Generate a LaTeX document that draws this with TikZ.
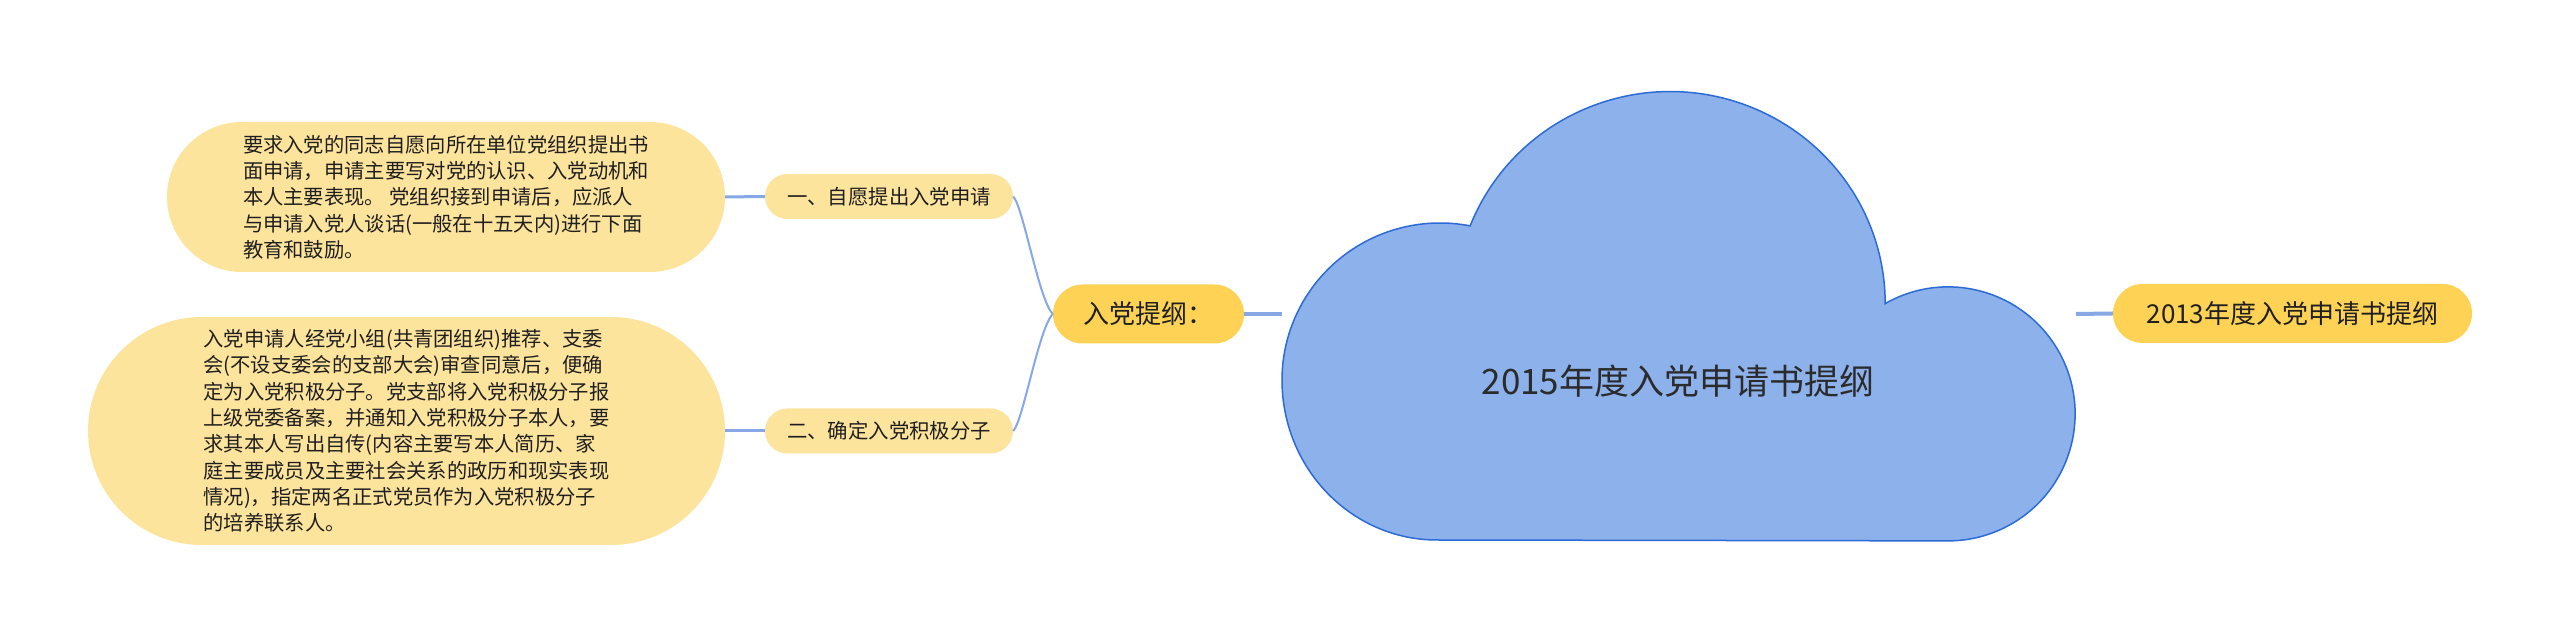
\documentclass[tikz,border=0pt]{standalone}
\usepackage{fontspec}
\setmainfont{Noto Sans CJK SC}
\definecolor{bubbleY}{HTML}{FDE49D}
\definecolor{mainY}{HTML}{FDD255}
\definecolor{lineB}{HTML}{86A8E6}
\definecolor{cloudF}{HTML}{8DB1EB}
\definecolor{cloudD}{HTML}{2C6BD6}
\definecolor{txt}{HTML}{1F1F1F}
\definecolor{rootTxt}{HTML}{2B2B2B}
\begin{document}
\begin{tikzpicture}[x=1pt,y=1pt,
  bubble/.style={fill=bubbleY, inner sep=0pt, text=txt, align=left,
    font=\fontsize{20.3}{26.3}\selectfont},
  sub/.style={fill=bubbleY, inner sep=0pt, minimum width=248pt, minimum height=45pt,
    rounded corners=22.5pt, text=txt, font=\fontsize{20.4}{24}\selectfont},
  mainnode/.style={fill=mainY, inner sep=0pt, minimum height=59pt,
    rounded corners=29.5pt, text=txt, font=\fontsize{26}{30}\selectfont},
  link/.style={draw=lineB, line width=3pt},
  thicklink/.style={draw=lineB, line width=4pt},
  curvelink/.style={draw=lineB, line width=2pt},
]
\fill[white] (0,0) rectangle (2560,634);
\useasboundingbox (0,0) rectangle (2560,634);

% cloud
\draw[fill=cloudF, draw=cloudD, line width=1.5pt]
  (1437,94) arc[start angle=270, end angle=180, x radius=155, y radius=160]
  arc[start angle=180, end angle=79, x radius=158, y radius=157]
  arc[start angle=158.5, end angle=0, x radius=215, y radius=212]
  arc[start angle=119.7, end angle=-90, radius=127]
  -- cycle;
\node[font=\fontsize{35}{40}\selectfont, text=rootTxt, inner sep=0pt] (root) at (1678,253) {2015年度入党申请书提纲};
\coordinate (cl) at (1282,320);
\coordinate (cr) at (2076,320);

% main nodes
\node[mainnode, minimum width=191pt] (m1) at (1148.5,320) {入党提纲：};
\node[mainnode, minimum width=359pt] (m2) at (2292.5,320.5) {2013年度入党申请书提纲};

% sub nodes
\node[sub] (s1) at (889,437.5) {一、自愿提出入党申请};
\node[sub] (s2) at (889,203) {二、确定入党积极分子};

% bubbles
\node[bubble, minimum width=558pt, minimum height=150pt, rounded corners=75pt] (b1) at (446,437)
{要求入党的同志自愿向所在单位党组织提出书\\
面申请，申请主要写对党的认识、入党动机和\\
本人主要表现。 党组织接到申请后，应派人\\
与申请入党人谈话(一般在十五天内)进行下面\\
教育和鼓励。};
\node[bubble, minimum width=637pt, minimum height=228pt, rounded corners=114pt] (b2) at (406.5,203)
{入党申请人经党小组(共青团组织)推荐、支委\\
会(不设支委会的支部大会)审查同意后，便确\\
定为入党积极分子。党支部将入党积极分子报\\
上级党委备案，并通知入党积极分子本人，要\\
求其本人写出自传(内容主要写本人简历、家\\
庭主要成员及主要社会关系的政历和现实表现\\
情况)，指定两名正式党员作为入党积极分子\\
的培养联系人。};

% connectors
\draw[thicklink] (m1.east) -- (cl);
\draw[thicklink] (cr) -- (m2.west);
\draw[curvelink] (s1.east) .. controls +(10,-10) and +(-14,14) .. (m1.west);
\draw[curvelink] (s2.east) .. controls +(10,10) and +(-14,-14) .. (m1.west);
\draw[link] (b1.east) -- (s1.west);
\draw[link] (b2.east) -- (s2.west);
\end{tikzpicture}
\end{document}
